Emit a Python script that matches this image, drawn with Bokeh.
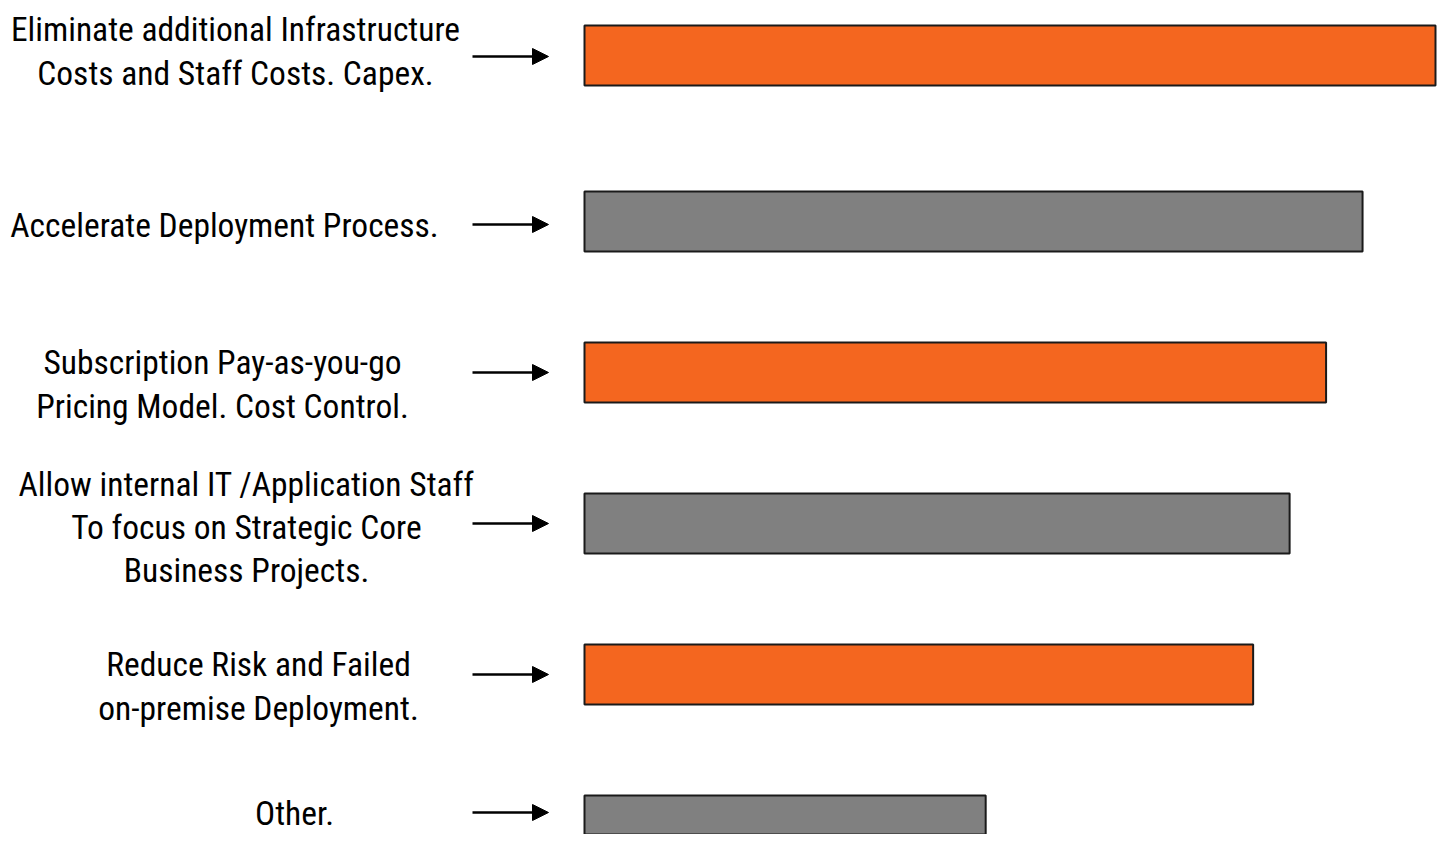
from bokeh.plotting import figure
from bokeh.models import Range1d, Arrow, NormalHead, ColumnDataSource
from bokeh.core.properties import value
from bokeh.embed import file_html
from bokeh.resources import INLINE

# ---- data ----
categories = [
    "Eliminate additional Infrastructure\nCosts and Staff Costs. Capex.",
    "Accelerate Deployment Process.",
    "Subscription Pay-as-you-go\nPricing Model. Cost Control.",
    "Allow internal IT /Application Staff\nTo focus on Strategic Core\nBusiness Projects.",
    "Reduce Risk and Failed\non-premise Deployment.",
    "Other.",
]
values = [70, 64, 61, 58, 55, 33]
colors = ["#F4661F", "#808080", "#F4661F", "#808080", "#F4661F", "#808080"]

# ---- layout (pixels) ----
W, H = 1437, 834
BAR_LEFT_PX = 584
BAR1_RIGHT_PX = 1435
ppu = (BAR1_RIGHT_PX - BAR_LEFT_PX) / max(values)

def to_x(px):
    return (px - BAR_LEFT_PX) / ppu

bar_y = [55] + [221 + 151 * k for k in range(5)]
label_y = [51, 225, 384, 527, 686, 813]
label_x = [235, 224, 222, 246, 258, 294]
arrow_y = [56, 224, 372, 523, 674, 812]

p = figure(width=W, height=H, output_backend="svg", toolbar_location=None,
           x_range=Range1d(to_x(0), to_x(W)),
           y_range=Range1d(H, 0),
           x_axis_type=None, y_axis_type=None, min_border=0,
           background_fill_color="white", border_fill_color="white")
p.outline_line_color = None
p.grid.visible = False

src = ColumnDataSource(dict(y=bar_y, right=values, color=colors))
p.hbar(y="y", left=0, right="right", height=60, fill_color="color",
       line_color="#1a1a1a", line_width=2, source=src)

lsrc = ColumnDataSource(dict(x=[to_x(v) for v in label_x], y=label_y, text=categories))
p.text(x="x", y="y", text="text", source=lsrc, text_align="center",
       text_baseline="middle", text_font=value("Roboto Condensed"),
       text_font_size="33.5px", text_color="black", text_line_height=1.11)

for ay in arrow_y:
    p.add_layout(Arrow(x_start=to_x(472), y_start=ay, x_end=to_x(548), y_end=ay,
                       line_color="black", line_width=2.5,
                       end=NormalHead(size=16, fill_color="black", line_color="black")))

open("out.html", "w").write(file_html(p, INLINE))
